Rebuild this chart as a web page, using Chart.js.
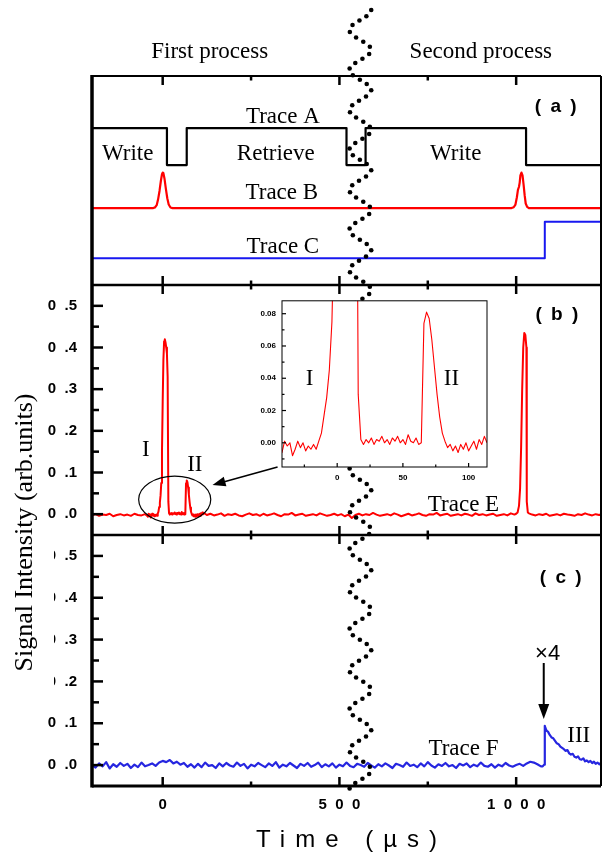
<!DOCTYPE html>
<html>
<head>
<meta charset="utf-8">
<script src="https://cdn.jsdelivr.net/npm/chart.js@4.4.1/dist/chart.umd.min.js"></script>
<style>
  html, body { margin: 0; padding: 0; background: #fff; }
  #wrap { position: relative; width: 602px; height: 856px; }
  #main { position: absolute; left: 0; top: 0; }
  #inset { position: absolute; left: 244px; top: 290px; }
</style>
</head>
<body>
<div id="wrap">
  <canvas id="main" width="602" height="856"></canvas>
  <canvas id="inset" width="252" height="200"></canvas>
</div>
<script>
const SANS = "'Liberation Sans', Arial, sans-serif";
const SERIF = "'Liberation Serif', 'Times New Roman', serif";
Chart.defaults.color = '#000';
Chart.defaults.font.family = SANS;

// scope time grid (µs) for the evenly sampled stretches
const range = (a, b, s) => Array.from({length: Math.round((b - a) / s) + 1}, (_, i) => a + i * s);

// ---- panel (a): control pulses, arbitrary units (0..1 = panel height)
const traceATime = [-200, 12, 12, 68, 68, 520, 520, 574, 574, 1028, 1028, 1240];
const traceAValue = [.751, .751, .574, .574, .751, .751, .574, .574, .751, .751, .574, .574];

const traceBTime = [-200, -28, -22, -17, -13, -9, -5, -2, 0, 2, 5, 9, 13, 17, 22, 28,
  987, 993, 998, 1002, 1005, 1008, 1010, 1012, 1015, 1018, 1021, 1024, 1027, 1031, 1036, 1240];
const traceBValue = [.368, .368, .371, .382, .41, .45, .5, .53, .538, .535, .51, .46, .415, .385, .371, .368,
  .368, .372, .385, .42, .455, .47, .49, .525, .538, .525, .48, .43, .39, .374, .368, .368];

const traceCTime = [-200, 1081, 1081, 1240];
const traceCValue = [.128, .128, .303, .303];

// ---- panel (b): trace E, signal (arb. units)
const eLeadTime = range(-200, -50, 10);
const eLeadValue = [-.003, .000, -.004, -.001, -.002, .001, -.005, -.002, .000, -.003, -.001, -.004, .001, -.002, -.003, .000];

const ePeakTime = range(-44, 116, 2);
const ePeakValue = [
  -.004, -.006, .001, -.002, .000, -.008, -.004, .001, -.003, .000,
  -.005, -.002, -.004, -.001, -.004, .001, .006, .017, .028, .045,
  .075, .15, .27, .37, .415, .42, .412, .40, .385, .33,
  .03, .002, -.001, .002, .000, .003, -.001, .002, .001, .004,
  .000, .002, -.001, .003, .001, .004, .000, .002, -.001, .005,
  .001, .000, .003, -.001, .000, .074, .081, .077, .064, .047,
  .030, .016, .006, .001, -.003, -.001, -.005, -.002, -.006, -.001,
  -.004, .000, -.005, -.002, .001, -.004, .002, -.001, .004, .000,
  .003];

const eMidTime = range(125, 995, 10);
const eMidValue = [
  -.002, .001, -.003, -.001, .002, -.004, .000, -.002, .001, -.003,
  -.005, -.001, .002, -.002, .000, -.004, .001, -.003, -.001, .002,
  -.002, -.005, .000, -.001, .003, -.003, -.001, .001, -.004, -.002,
  .000, -.003, .002, -.001, -.004, -.002, .001, -.003, .000, -.005,
  -.001, -.009, -.002, .001, -.003, .000, -.002, .003, -.001, -.004,
  -.002, .000, -.003, .002, -.001, -.005, -.002, .001, -.003, -.001,
  .002, -.002, -.004, .000, -.001, .003, -.003, -.001, .001, -.004,
  -.002, .000, -.003, .001, -.001, -.004, .002, -.002, .000, -.003,
  -.001, .001, -.004, -.002, .000, -.003, .002, -.001];

const ePeak2Time = [1000, 1004, 1008, 1011, 1014, 1017, 1020, 1023, 1026, 1029, 1030, 1033, 1036];
const ePeak2Value = [.001, .004, .02, .06, .16, .30, .40, .435, .43, .40, .03, .004, .002];

const eTailTime = range(1045, 1245, 10);
const eTailValue = [-.001, -.003, .000, -.002, .001, -.004, -.002, .000, -.003, .001, -.001, -.002, -.004, .000, -.002, .002, -.001, -.003, .000, -.002, .001];

// ---- panel (c): trace F, signal (arb. units)
const fBaseTime = range(-200, 1070, 10);
const fBaseValue = [
  .000, -.006, .004, -.003, .007, -.008, .002, -.004, .005, -.002,
  .003, -.007, .001, -.005, .006, -.003, .000, .004, -.002, .006,
  .010, .007, .012, .004, .008, .001, .005, -.004, .002, -.006,
  .003, -.005, .006, -.002, .000, -.007, .004, -.003, .005, -.001,
  -.004, .006, -.002, .003, -.008, .001, -.003, .005, .000, -.005,
  .004, -.002, .007, -.006, .001, -.003, .005, -.001, -.007, .003,
  -.002, .005, -.004, .000, .006, -.005, .002, -.003, .004, -.006,
  .001, -.003, .006, -.002, -.005, .003, .000, -.004, .005, -.001,
  -.006, .002, -.003, .004, -.001, -.007, .003, .000, -.004, .006,
  -.002, .001, -.005, .004, -.003, .007, -.001, -.006, .002, -.002,
  .005, -.003, .000, -.007, .003, -.001, .004, -.005, .001, -.003,
  .006, -.002, -.004, .002, -.006, .001, -.003, .005, -.001, -.004,
  .000, .003, -.002, .004, .008, .006, .002, -.003];

const fPulseTime = [1075, 1079, 1081, 1083, 1086, 1090, 1095, 1100, 1105, 1110, 1115, 1120, 1125, 1130, 1135, 1140, 1145, 1150,
  1155, 1160, 1165, 1170, 1175, 1180, 1185, 1190, 1195, 1200, 1205, 1210, 1215, 1220, 1225, 1230, 1235, 1240];
const fPulseValue = [-.003, .001, .094, .088, .082, .080, .072, .066, .064, .058, .052, .050, .044, .041, .038, .034, .036, .028,
  .025, .027, .020, .018, .021, .014, .013, .016, .009, .011, .007, .010, .005, .008, .003, .006, .002, .005];

const traceETime = [...eLeadTime, ...ePeakTime, ...eMidTime, ...ePeak2Time, ...eTailTime];
const traceEValue = [...eLeadValue, ...ePeakValue, ...eMidValue, ...ePeak2Value, ...eTailValue];
const traceFTime = [...fBaseTime, ...fPulseTime];
const traceFValue = [...fBaseValue, ...fPulseValue];

// ---- axes
const xMajorTicks = [0, 500, 1000];
const xMinorTicks = [250, 750];
const yMajorTicks = [0, .1, .2, .3, .4, .5];
const yMinorTicks = [.05, .15, .25, .35, .45];
const insetXTicks = [0, 50, 100];
const insetXMinor = [-25, 25, 75];
const insetYTicks = [0, .02, .04, .06, .08];
const insetYMinor = [-.01, .01, .03, .05, .07];

// ---- text annotations (time in µs, value on the panel's axis)
const notes = [
  {text: 'Trace A', t: 340, v: .804, axis: 'yA'},
  {text: 'Write', t: -99, v: .627, axis: 'yA'},
  {text: 'Retrieve', t: 320, v: .627, axis: 'yA'},
  {text: 'Write', t: 829, v: .627, axis: 'yA'},
  {text: 'Trace B', t: 337, v: .44, axis: 'yA'},
  {text: 'Trace C', t: 340, v: .182, axis: 'yA'},
  {text: 'I', t: -48, v: .154, axis: 'yB'},
  {text: 'II', t: 91, v: .118, axis: 'yB'},
  {text: 'Trace E', t: 851, v: .022, axis: 'yB'},
  {text: 'Trace F', t: 851, v: .038, axis: 'yC'},
  {text: 'III', t: 1177, v: .069, axis: 'yC'}
];
const panelTags = [
  {text: '( a )', t: 1112, v: .852, axis: 'yA'},
  {text: '( b )', t: 1115, v: .478, axis: 'yB'},
  {text: '( c )', t: 1126, v: .447, axis: 'yC'}
];
const processTitles = [{text: 'First process', t: 133}, {text: 'Second process', t: 900}];
const breakTime = 559;   // centre of the dotted axis-break marker
const breakAmp = 31;

const toXY = (ts, vs) => ts.map((t, i) => ({x: t, y: vs[i]}));

function seg(ctx, x1, y1, x2, y2, w) {
  if (w) ctx.lineWidth = w;
  ctx.beginPath();
  ctx.moveTo(x1, y1);
  ctx.lineTo(x2, y2);
  ctx.stroke();
}

function label(ctx, str, x, y, font, spacing = 0) {
  ctx.font = font;
  ctx.textAlign = 'center';
  ctx.textBaseline = 'middle';
  ctx.letterSpacing = spacing + 'px';
  ctx.fillText(str, x + spacing / 2, y);
  ctx.letterSpacing = '0px';
}

function arrow(ctx, x1, y1, x2, y2, head, half) {
  const a = Math.atan2(y2 - y1, x2 - x1);
  const c = Math.cos(a), s = Math.sin(a);
  seg(ctx, x1, y1, x2 - head * 0.8 * c, y2 - head * 0.8 * s);
  ctx.beginPath();
  ctx.moveTo(x2, y2);
  ctx.lineTo(x2 - head * c + half * s, y2 - head * s - half * c);
  ctx.lineTo(x2 - head * c - half * s, y2 - head * s + half * c);
  ctx.closePath();
  ctx.fill();
}

const figure = {
  id: 'figure',
  afterDraw(chart) {
    const {ctx, chartArea: ca} = chart;
    const {x, yA, yB, yC} = chart.scales;
    const sc = {yA, yB, yC};
    const px = t => x.getPixelForValue(t);
    ctx.save();
    ctx.strokeStyle = '#000';
    ctx.fillStyle = '#000';

    // frame + panel separators
    seg(ctx, ca.left, ca.top, ca.right, ca.top, 2);
    seg(ctx, ca.left, yA.bottom, ca.right, yA.bottom, 2.5);
    seg(ctx, ca.left, yB.bottom, ca.right, yB.bottom, 2.5);
    seg(ctx, ca.left, ca.bottom, ca.right, ca.bottom, 3);
    seg(ctx, ca.right, ca.top, ca.right, ca.bottom, 2);
    seg(ctx, ca.left, ca.top - 1, ca.left, ca.bottom + 1.5, 3.5);

    // inward ticks
    ctx.lineWidth = 2.5;
    for (const [list, len] of [[xMajorTicks, 9], [xMinorTicks, 4.5]]) {
      for (const t of list) {
        const p = px(t);
        seg(ctx, p, ca.top, p, ca.top + len);
        seg(ctx, p, yA.bottom - len, p, yA.bottom + len);
        seg(ctx, p, yB.bottom - len, p, yB.bottom + len);
        seg(ctx, p, ca.bottom - len, p, ca.bottom);
      }
    }
    for (const s of [yB, yC]) {
      for (const v of yMajorTicks) seg(ctx, ca.left, s.getPixelForValue(v), ca.left + 11, s.getPixelForValue(v));
      for (const v of yMinorTicks) seg(ctx, ca.left, s.getPixelForValue(v), ca.left + 7, s.getPixelForValue(v));
    }

    // ellipse around peaks I/II and arrow to the inset
    ctx.lineWidth = 1.2;
    const ecx = px(34), ecy = yB.getPixelForValue(.035);
    ctx.beginPath();
    ctx.ellipse(ecx, ecy, px(136) - ecx, ecy - yB.getPixelForValue(.0915), 0, 0, Math.PI * 2);
    ctx.stroke();
    ctx.lineWidth = 1.6;
    arrow(ctx, px(325), yB.getPixelForValue(.113), px(141), yB.getPixelForValue(.07), 13, 5);

    // x4 marker in panel (c)
    ctx.lineWidth = 2;
    arrow(ctx, px(1078), yC.getPixelForValue(.244), px(1078), yC.getPixelForValue(.11), 15, 5.5);
    label(ctx, '\u00d74', px(1089), yC.getPixelForValue(.266), '22px ' + SANS);

    for (const n of notes) label(ctx, n.text, px(n.t), sc[n.axis].getPixelForValue(n.v), '23px ' + SERIF);
    for (const n of panelTags) label(ctx, n.text, px(n.t), sc[n.axis].getPixelForValue(n.v), 'bold 19px ' + SANS, 2);
    for (const n of processTitles) label(ctx, n.text, px(n.t), ca.top - 24, '23px ' + SERIF);

    // leading zeros of the upper panel (c) labels are clipped in the original
    ctx.fillStyle = '#fff';
    ctx.fillRect(38, yC.top + 8, 16, yC.getPixelForValue(.15) - yC.top - 8);
    ctx.fillStyle = '#000';

    // axis titles
    ctx.save();
    ctx.translate(25, (yB.top + yC.bottom) / 2 - 3);
    ctx.rotate(-Math.PI / 2);
    label(ctx, 'Signal Intensity (arb.units)', 0, 0, '26px ' + SERIF);
    ctx.restore();
    label(ctx, 'Time (\u00b5s)', (ca.left + ca.right) / 2, 840, '24px ' + SANS, 10);

    // dotted axis-break marker across all panels, dots evenly spaced along the wave
    const waveX = py => px(breakTime + breakAmp * Math.cos((py - 10) / 40 * Math.PI * 2));
    let prevX = waveX(10), prevY = 10, run = 8;
    for (let py = 10; py <= 792; py += 0.25) {
      const wx = waveX(py);
      run += Math.hypot(wx - prevX, py - prevY);
      prevX = wx; prevY = py;
      if (run >= 8) {
        run = 0;
        ctx.beginPath();
        ctx.arc(wx, py, 2.3, 0, Math.PI * 2);
        ctx.fill();
      }
    }
    ctx.restore();
  }
};

const panelAxis = (weight, stackWeight, min, max, showTicks) => ({
  type: 'linear', position: 'left', stack: 'fig', stackWeight, weight, min, max,
  grid: {display: false, drawTicks: false},
  border: {display: false},
  afterBuildTicks: s => { s.ticks = showTicks ? yMajorTicks.map(v => ({value: v})) : []; },
  afterFit: s => { s.width = 92; },
  ticks: {
    display: showTicks, padding: 15, autoSkip: false,
    font: {family: SANS, size: 15, weight: 'bold'},
    callback: v => v.toFixed(1).replace('.', '  .')
  }
});

const line = (points, color, axis, width) => ({
  data: points, yAxisID: axis, borderColor: color, borderWidth: width,
  pointRadius: 0, tension: 0, borderJoinStyle: 'round'
});

new Chart(document.getElementById('main'), {
  type: 'line',
  data: {
    datasets: [
      line(toXY(traceATime, traceAValue), '#000', 'yA', 2.2),
      line(toXY(traceBTime, traceBValue), '#ff0000', 'yA', 2.2),
      line(toXY(traceCTime, traceCValue), '#1818f0', 'yA', 2),
      line(toXY(traceETime, traceEValue), '#ff0000', 'yB', 2),
      line(toXY(traceFTime, traceFValue), '#2626e0', 'yC', 2.2)
    ]
  },
  options: {
    responsive: false, animation: false, devicePixelRatio: 1,
    layout: {padding: {top: 76, right: 1, bottom: 0, left: 0}},
    plugins: {legend: {display: false}, tooltip: {enabled: false}},
    scales: {
      x: {
        type: 'linear', position: 'bottom', min: -200, max: 1240,
        grid: {display: false, drawTicks: false}, border: {display: false},
        afterBuildTicks: s => { s.ticks = xMajorTicks.map(v => ({value: v})); },
        afterFit: s => { s.height = 70; },
        ticks: {
          autoSkip: false, maxRotation: 0, padding: 10,
          font: {family: SANS, size: 15, weight: 'bold'},
          callback: v => String(v).split('').join('  ')
        }
      },
      yC: panelAxis(1, 251, -0.05, 0.55, true),
      yB: panelAxis(2, 250, -0.05, 0.55, true),
      yA: panelAxis(3, 209, 0, 1, false)
    }
  },
  plugins: [figure]
});

// ---- inset: zoom of peaks I and II of trace E
const insetFrame = {
  id: 'insetFrame',
  beforeDraw(chart) {
    const {ctx, chartArea: ca} = chart;
    ctx.save();
    ctx.fillStyle = '#fff';
    ctx.fillRect(ca.left, ca.top, ca.right - ca.left, ca.bottom - ca.top);
    ctx.restore();
  },
  afterDraw(chart) {
    const {ctx, chartArea: ca} = chart;
    const {x, y} = chart.scales;
    ctx.save();
    ctx.strokeStyle = '#000';
    ctx.fillStyle = '#000';
    ctx.strokeRect(ca.left, ca.top, ca.right - ca.left, ca.bottom - ca.top);
    ctx.lineWidth = 1.2;
    for (const v of insetYTicks) seg(ctx, ca.left, y.getPixelForValue(v), ca.left + 4, y.getPixelForValue(v));
    for (const v of insetYMinor) seg(ctx, ca.left, y.getPixelForValue(v), ca.left + 2.5, y.getPixelForValue(v));
    for (const t of insetXTicks) seg(ctx, x.getPixelForValue(t), ca.bottom, x.getPixelForValue(t), ca.bottom - 4);
    for (const t of insetXMinor) seg(ctx, x.getPixelForValue(t), ca.bottom, x.getPixelForValue(t), ca.bottom - 2.5);
    label(ctx, 'I', x.getPixelForValue(-21), y.getPixelForValue(.0396), '23px ' + SERIF);
    label(ctx, 'II', x.getPixelForValue(87), y.getPixelForValue(.0396), '23px ' + SERIF);
    ctx.restore();
  }
};

new Chart(document.getElementById('inset'), {
  type: 'line',
  data: {datasets: [{
    data: toXY(traceETime, traceEValue), borderColor: '#ff0000', borderWidth: 1.1,
    pointRadius: 0, tension: 0, borderJoinStyle: 'round'
  }]},
  options: {
    responsive: false, animation: false, devicePixelRatio: 1,
    layout: {padding: {top: 9, right: 9, bottom: 0, left: 0}},
    plugins: {legend: {display: false}, tooltip: {enabled: false}},
    scales: {
      x: {
        type: 'linear', min: -42, max: 114,
        grid: {display: false, drawTicks: false}, border: {display: false},
        afterBuildTicks: s => { s.ticks = insetXTicks.map(v => ({value: v})); },
        afterFit: s => { s.height = 23; },
        ticks: {autoSkip: false, maxRotation: 0, padding: 6, font: {family: SANS, size: 8, weight: 'bold'}}
      },
      y: {
        type: 'linear', min: -0.015, max: 0.088,
        grid: {display: false, drawTicks: false}, border: {display: false},
        afterBuildTicks: s => { s.ticks = insetYTicks.map(v => ({value: v})); },
        afterFit: s => { s.width = 38; },
        ticks: {autoSkip: false, padding: 6, font: {family: SANS, size: 8, weight: 'bold'}, callback: v => v.toFixed(2)}
      }
    }
  },
  plugins: [insetFrame]
});
</script>
</body>
</html>
